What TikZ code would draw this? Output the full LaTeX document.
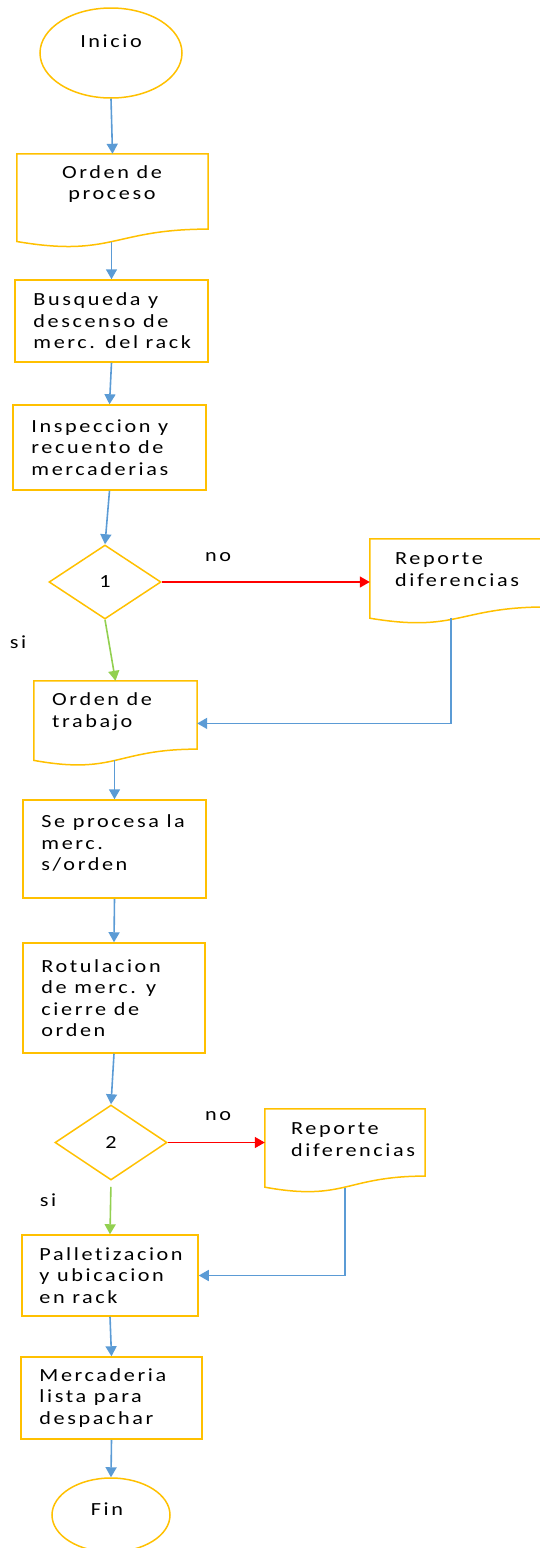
\documentclass[tikz,border=0pt]{standalone}
\usepackage{fontspec}
\setmainfont{Carlito}[FakeStretch=1.2,LetterSpace=14,Ligatures=NoCommon]
\usetikzlibrary{arrows.meta,shapes.geometric,calc}
\definecolor{gold}{HTML}{FFC000}
\definecolor{ablue}{HTML}{5B9BD5}
\definecolor{ared}{HTML}{FF0000}
\definecolor{agreen}{HTML}{92D050}
\newcommand{\mydoc}[1]{\draw[shp] let \p1=(#1.north west), \p2=(#1.south east) in
  (\x1,\y1) -- (\x2,\y1) -- (\x2,{\y1+0.802*(\y2-\y1)})
  .. controls ({0.5*(\x1+\x2)},{\y1+0.802*(\y2-\y1)}) and ({0.5*(\x1+\x2)},{\y1+1.1075*(\y2-\y1)})
  .. (\x1,{\y1+0.934*(\y2-\y1)}) -- cycle;}
\tikzset{
  shp/.style={draw=gold,line width=1.5pt,line join=miter},
  txt/.style={font=\fontsize{18.5}{21.5}\selectfont,inner sep=0pt,align=left},
  boxn/.style={shp,rectangle,inner sep=0pt},
  docn/.style={rectangle,draw=none,inner sep=0pt},
  ova/.style={shp,ellipse,inner sep=0pt},
  dia/.style={shp,diamond,inner sep=0pt,font=\fontsize{18.5}{21.5}\selectfont},
  flow/.style={draw=ablue,line width=1.6pt,-{Triangle[length=10pt,width=11pt]}},
  flowno/.style={draw=ared,line width=1.3pt,-{Triangle[length=10pt,width=11pt]}},
  flowsi/.style={draw=agreen,line width=1.6pt,-{Triangle[length=10pt,width=11pt]}},
}
\begin{document}
\begin{tikzpicture}[x=1pt,y=-1pt]
\useasboundingbox (0,0) rectangle (539,1548);
% start
\node[ova,minimum width=142pt,minimum height=90pt] (ini) at (111,53) {};
\node[txt] (initxt) at (111,41) {Inicio};
% Orden de proceso
\node[docn,minimum width=191pt,minimum height=93.5pt] (op) at (112.5,200.75) {};
\mydoc{op}
\node[txt,align=center] (optxt) at (112,184) {Orden de\\proceso};
% Busqueda
\node[boxn,minimum width=193pt,minimum height=82pt] (bus) at (111.5,321) {};
\node[txt,anchor=west] (bustxt) at ($(bus.west)+(19,0)$) {Busqueda y\\descenso de\\merc. del rack};
% Inspeccion
\node[boxn,minimum width=193pt,minimum height=85pt] (insp) at (109.5,447.5) {};
\node[txt,anchor=west] (insptxt) at ($(insp.west)+(19,0)$) {Inspeccion y\\recuento de\\mercaderias};
% decision 1
\node[dia,minimum width=112pt,minimum height=74pt] (d1) at (105,582) {1};
% Reporte 1
\node[docn,minimum width=176pt,minimum height=84.6pt] (rep1) at (458,581.3) {};
\mydoc{rep1}
\node[txt,anchor=west] (rep1txt) at (395,569.5) {Reporte\\diferencias};
% Orden de trabajo
\node[docn,minimum width=163pt,minimum height=84.8pt] (ot) at (115.5,723.4) {};
\mydoc{ot}
\node[txt,anchor=west] (ottxt) at (52,711.5) {Orden de\\trabajo};
% Se procesa
\node[boxn,minimum width=183pt,minimum height=98pt] (sp) at (114.5,849) {};
\node[txt,anchor=west] (sptxt) at ($(sp.west)+(19,-6)$) {Se procesa la\\merc.\\s/orden};
% Rotulacion
\node[boxn,minimum width=182pt,minimum height=110pt] (rot) at (114,998) {};
\node[txt,anchor=west] (rottxt) at ($(rot.west)+(19,0)$) {Rotulacion\\de merc. y\\cierre de\\orden};
% decision 2
\node[dia,minimum width=112pt,minimum height=75pt] (d2) at (111,1142.5) {2};
% Reporte 2
\node[docn,minimum width=160pt,minimum height=83.5pt] (rep2) at (345,1150.75) {};
\mydoc{rep2}
\node[txt,anchor=west] (rep2txt) at (291,1139.5) {Reporte\\diferencias};
% Palletizacion
\node[boxn,minimum width=176pt,minimum height=81pt] (pal) at (110,1275.5) {};
\node[txt,anchor=west] (paltxt) at ($(pal.west)+(18,0)$) {Palletizacion\\y ubicacion\\en rack};
% Mercaderia
\node[boxn,minimum width=181pt,minimum height=82pt] (mer) at (111.5,1398) {};
\node[txt,anchor=west] (mertxt) at ($(mer.west)+(19,0)$) {Mercaderia\\lista para\\despachar};
% end
\node[ova,minimum width=118pt,minimum height=74pt] (fin) at (111,1515) {};
\node[txt] (fintxt) at (107,1509) {Fin};
% labels
\node[txt] (no1) at (218,557) {no};
\node[txt] (si1) at (18,642) {si};
\node[txt] (no2) at (218,1116) {no};
\node[txt] (si2) at (48,1200) {si};
% connectors
\draw[flow] (ini.south) -- (op.north);
\draw[flow] ($(op.south)+(-1,-6)$) -- (bus.north);
\draw[flow] (bus.south) -- (insp.north);
\draw[flow] (insp.south) -- (d1.north);
\draw[flowno] (d1.east) -- (d1.east -| rep1.west);
\draw[flowsi] (d1.south) -- (ot.north);
\draw[flow] ($(rep1.south)+(-7,-6)$) |- (ot.east);
\draw[flow] ($(ot.south)+(-1,-6)$) -- (sp.north);
\draw[flow] (sp.south) -- (rot.north);
\draw[flow] (rot.south) -- (d2.north);
\draw[flowno] (d2.east) -- (d2.east -| rep2.west);
\draw[flowsi,shorten <=6pt] (d2.south) -- (pal.north);
\draw[flow] ($(rep2.south)+(0,-5)$) |- (pal.east);
\draw[flow] (pal.south) -- (mer.north);
\draw[flow] (mer.south) -- (fin.north);
\end{tikzpicture}
\end{document}
